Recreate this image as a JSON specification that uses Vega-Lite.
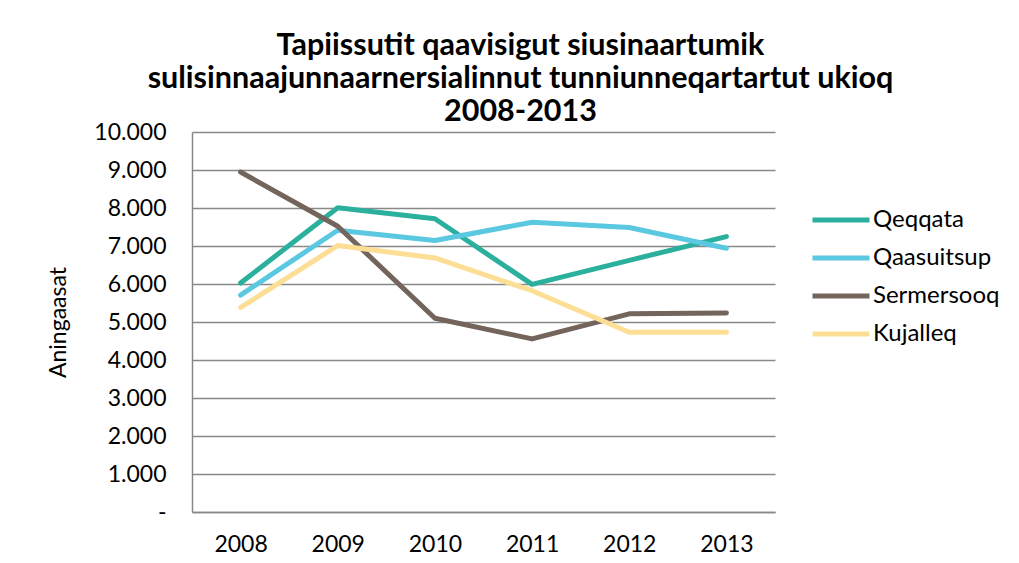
{
  "$schema": "https://vega.github.io/schema/vega-lite/v6.json",
  "autosize": {"type": "none"},
  "width": 583,
  "height": 380,
  "padding": {"left": 192, "top": 132, "right": 244, "bottom": 51},
  "background": "white",
  "title": {
    "text": ["Tapiissutit qaavisigut siusinaartumik", "sulisinnaajunnaarnersialinnut tunniunneqartartut ukioq", "2008-2013"],
    "font": "Lato",
    "fontSize": 30.5,
    "fontWeight": "bold",
    "color": "#000000",
    "anchor": "middle",
    "dx": 37,
    "offset": -6,
    "lineHeight": 33
  },
  "data": {
    "values": [
      {"year": "2008", "region": "Qeqqata", "value": 6025},
      {"year": "2009", "region": "Qeqqata", "value": 8006},
      {"year": "2010", "region": "Qeqqata", "value": 7716},
      {"year": "2011", "region": "Qeqqata", "value": 5990},
      {"year": "2012", "region": "Qeqqata", "value": 6623},
      {"year": "2013", "region": "Qeqqata", "value": 7248},
      {"year": "2008", "region": "Qaasuitsup", "value": 5708},
      {"year": "2009", "region": "Qaasuitsup", "value": 7415},
      {"year": "2010", "region": "Qaasuitsup", "value": 7143},
      {"year": "2011", "region": "Qaasuitsup", "value": 7626},
      {"year": "2012", "region": "Qaasuitsup", "value": 7486},
      {"year": "2013", "region": "Qaasuitsup", "value": 6940},
      {"year": "2008", "region": "Sermersooq", "value": 8946},
      {"year": "2009", "region": "Sermersooq", "value": 7520},
      {"year": "2010", "region": "Sermersooq", "value": 5100},
      {"year": "2011", "region": "Sermersooq", "value": 4555},
      {"year": "2012", "region": "Sermersooq", "value": 5215},
      {"year": "2013", "region": "Sermersooq", "value": 5240},
      {"year": "2008", "region": "Kujalleq", "value": 5382},
      {"year": "2009", "region": "Kujalleq", "value": 7011},
      {"year": "2010", "region": "Kujalleq", "value": 6686},
      {"year": "2011", "region": "Kujalleq", "value": 5823},
      {"year": "2012", "region": "Kujalleq", "value": 4732},
      {"year": "2013", "region": "Kujalleq", "value": 4732}
    ]
  },
  "mark": {"type": "line", "strokeWidth": 5, "strokeCap": "round", "strokeJoin": "round"},
  "encoding": {
    "x": {
      "field": "year",
      "type": "ordinal",
      "axis": {
        "title": null,
        "labelAngle": 0,
        "labelFont": "Lato",
        "labelFontSize": 23,
        "labelColor": "#000000",
        "labelPadding": 21,
        "ticks": false,
        "domainColor": "#888888",
        "domainWidth": 1.5,
        "grid": false
      }
    },
    "y": {
      "field": "value",
      "type": "quantitative",
      "scale": {"domain": [0, 10000], "nice": false},
      "axis": {
        "title": "Aningaasat",
        "titleFont": "Lato",
        "titleFontSize": 23,
        "titleFontWeight": "normal",
        "titleColor": "#000000",
        "titleX": -122,
        "values": [0, 1000, 2000, 3000, 4000, 5000, 6000, 7000, 8000, 9000, 10000],
        "labelExpr": "datum.value == 0 ? '-' : replace(format(datum.value, ','), ',', '.')",
        "labelFont": "Lato",
        "labelFontSize": 23,
        "labelColor": "#000000",
        "labelPadding": 26,
        "ticks": false,
        "domainColor": "#888888",
        "domainWidth": 1.5,
        "grid": true,
        "gridColor": "#888888",
        "gridWidth": 1.5
      }
    },
    "color": {
      "field": "region",
      "type": "nominal",
      "scale": {
        "domain": ["Qeqqata", "Qaasuitsup", "Sermersooq", "Kujalleq"],
        "range": ["#2BB09E", "#5BC8E2", "#73645C", "#FCDF95"]
      },
      "legend": {
        "title": null,
        "orient": "none",
        "legendX": 637,
        "legendY": 76,
        "symbolType": "M-5,0H5",
        "symbolSize": 130,
        "symbolStrokeWidth": 5,
        "symbolStrokeCap": "round",
        "labelFont": "Lato",
        "labelFontSize": 24,
        "labelColor": "#000000",
        "labelOffset": 20,
        "labelLimit": 300,
        "rowPadding": 14
      }
    }
  },
  "config": {
    "view": {"stroke": null}
  }
}
